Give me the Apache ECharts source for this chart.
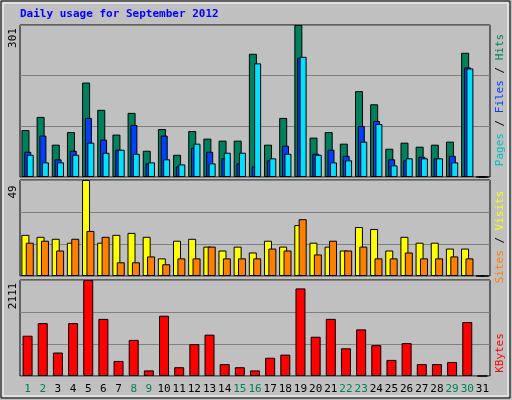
<!DOCTYPE html>
<html>
<head>
<meta charset="utf-8">
<script src="https://cdn.jsdelivr.net/npm/echarts@6/dist/echarts.min.js"></script>
<style>
  html, body { margin: 0; padding: 0; background: #c0c0c0; }
  #chart { width: 512px; height: 400px; }
</style>
</head>
<body>
<div id="chart"></div>
<script>
// daily usage, September 2012
var days = ['1','2','3','4','5','6','7','8','9','10','11','12','13','14','15','16',
            '17','18','19','20','21','22','23','24','25','26','27','28','29','30','31'];
var weekend = ['1','2','8','9','15','16','22','23','29','30'];

var hits  = [93,119,64,89,187,133,84,127,52,95,44,91,76,72,72,244,64,117,301,78,89,66,170,144,56,68,60,64,70,246,0];
var files = [50,82,35,52,117,74,54,103,27,82,21,58,50,37,27,21,33,62,236,46,54,42,101,111,35,33,40,37,42,217,0];
var pages = [44,29,29,44,68,48,54,46,29,35,25,66,27,48,48,225,37,46,238,44,29,33,70,105,23,37,37,37,29,215,0];

var visits = [21,20,19,17,49,17,21,22,20,9,18,19,15,13,15,12,18,15,26,17,15,13,25,24,13,20,17,17,14,14,0];
var sites  = [17,18,13,19,23,20,7,7,10,6,9,9,15,9,9,9,14,13,29,11,18,13,15,9,9,12,9,9,10,9,0];

var kbytes = [886,1163,516,1163,2111,1256,331,794,123,1325,193,701,909,262,193,123,401,470,1926,863,1256,609,1025,678,354,724,262,262,308,1187,0];

var maxHits = 301, maxVisits = 49, maxKb = 2111;

var chart = echarts.init(document.getElementById('chart'));
var mono = 'DejaVu Sans Mono';

function gridBox(top, height) {
    return { left: 20, right: 22, top: top, height: height, show: true,
             backgroundColor: '#c0c0c0', borderColor: '#000', borderWidth: 1 };
}
function xAx(idx, showLabels) {
    return {
        type: 'category', gridIndex: idx, data: days,
        axisLine: { show: false }, axisTick: { show: false },
        axisLabel: showLabels ? {
            show: true, fontFamily: mono, fontSize: 11, margin: 8, interval: 0,
            color: function (v) { return weekend.indexOf(v) >= 0 ? '#00805c' : '#000'; }
        } : { show: false }
    };
}
function yAx(idx, max) {
    return {
        type: 'value', gridIndex: idx, min: 0, max: max, interval: max / 3,
        axisLabel: { show: false }, axisLine: { show: false }, axisTick: { show: false },
        splitLine: { lineStyle: { color: '#808080', width: 1 } }
    };
}
function bar(name, data, idx, color, width, gap) {
    return {
        name: name, type: 'bar', data: data, xAxisIndex: idx, yAxisIndex: idx,
        barWidth: width, barGap: gap, animation: false,
        itemStyle: { color: color, borderColor: '#000', borderWidth: 1 }
    };
}
function vtext(x, y, rich, str) {
    return { type: 'text', x: x, y: y, rotation: Math.PI / 2,
             style: { text: str, rich: rich, font: '11px ' + mono, align: 'center', verticalAlign: 'middle' } };
}

chart.setOption({
    backgroundColor: '#c0c0c0',
    grid: [gridBox(25, 152), gridBox(180, 96), gridBox(280, 96)],
    xAxis: [xAx(0, false), xAx(1, false), xAx(2, true)],
    yAxis: [yAx(0, maxHits), yAx(1, maxVisits), yAx(2, maxKb)],
    series: [
        bar('Hits', hits, 0, '#00805c', 8, '-65%'),
        bar('Files', files, 0, '#0040ff', 7, '-65%'),
        bar('Pages', pages, 0, '#00e0ff', 7, '-65%'),
        bar('Visits', visits, 1, '#ffff00', 8, '-45%'),
        bar('Sites', sites, 1, '#ff8000', 8, '-45%'),
        bar('KBytes', kbytes, 2, '#ff0000', 10, '0%')
    ],
    graphic: [
        { type: 'rect', shape: { x: 1, y: 1, width: 509, height: 397 },
          style: { fill: 'none', stroke: '#000', lineWidth: 1 } },
        { type: 'rect', shape: { x: 3, y: 3, width: 505, height: 393 },
          style: { fill: 'none', stroke: '#fff', lineWidth: 1 } },
        { type: 'text', x: 20, y: 9,
          style: { text: 'Daily usage for September 2012', font: 'bold 11px ' + mono, fill: '#0000ff' } },
        vtext(13, 38, null, String(maxHits)),
        vtext(13, 192, null, String(maxVisits)),
        vtext(13, 296, null, String(maxKb)),
        vtext(500, 100, { p: { fill: '#00c0c0' }, f: { fill: '#0040ff' }, h: { fill: '#00805c' }, s: { fill: '#000' } },
              '{p|Pages}{s| / }{f|Files}{s| / }{h|Hits}'),
        vtext(500, 237, { si: { fill: '#ff8000' }, v: { fill: '#ffff00' }, s: { fill: '#000' } },
              '{si|Sites}{s| / }{v|Visits}'),
        vtext(500, 353, { k: { fill: '#ff0000' } }, '{k|KBytes}')
    ]
});
</script>
</body>
</html>
